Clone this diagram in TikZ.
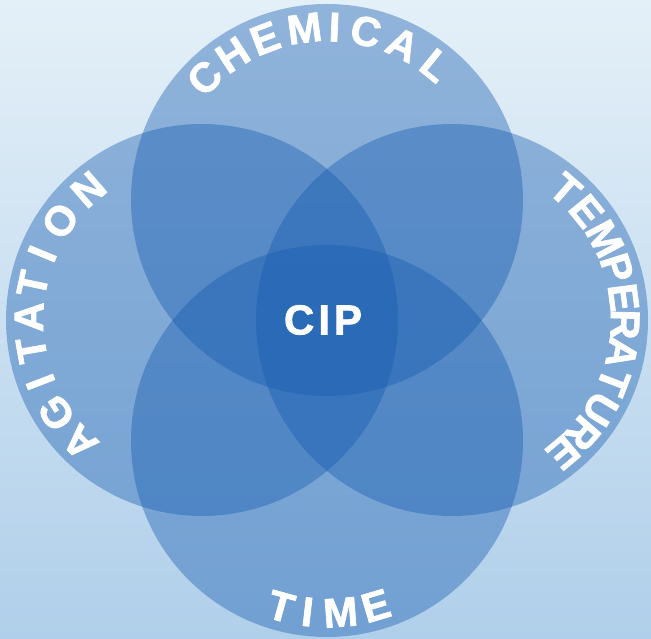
\documentclass[tikz,border=0pt]{standalone}
\usepackage{fontspec}
\setmainfont{Liberation Sans}[BoldFeatures={FakeBold=1.6}]
\usetikzlibrary{calc}
\definecolor{bgtop}{RGB}{228,240,248}
\definecolor{bgbottom}{RGB}{176,207,234}
\definecolor{vennblue}{RGB}{20,90,175}
\begin{document}
\begin{tikzpicture}
	[x=1pt,y=1pt,
	bubble/.style={circle,fill=vennblue,fill opacity=0.4,minimum size=392pt,inner sep=0pt},
	letter/.style={text=white,font=\fontsize{41.5}{41.5}\selectfont\bfseries,inner sep=0pt}]
	\shade[top color=bgtop,bottom color=bgbottom] (0,0) rectangle (651,639);
	\useasboundingbox (0,0) rectangle (651,639);
	\node[bubble,name=chemical] at (327,439) {};
	\node[bubble,name=agitation] at (202,319) {};
	\node[bubble,name=temperature] at (452,319) {};
	\node[bubble,name=time] at (327,198) {};
	\node[letter,font=\fontsize{42}{42}\selectfont\bfseries,name=cip] at (323,319) {C\hspace{4pt}I\hspace{4pt}P};
	% words round the circles
	\foreach \ch/\ang [count=\i] in {C/135,H/123,E/111,M/97.5,I/87.5,C/77,A/64,L/51}
	{
		\node[letter,rotate=\ang-90,name=chem-\i] at ($(chemical)+(\ang:173)$) {\ch};
	}
	\foreach \ch/\ang [count=\i] in {A/225,G/212.5,I/201,T/190,A/179,T/168,I/157.5,O/145,N/131}
	{
		\node[letter,rotate=\ang-90,name=agit-\i] at ($(agitation)+(\ang:173)$) {\ch};
	}
	\foreach \ch/\ang [count=\i] in {T/49,E/39,M/28,P/17.5,E/7.5,R/-1.5,A/-11,T/-21,U/-31,R/-41,E/-50}
	{
		\node[letter,rotate=\ang-90,name=temp-\i] at ($(temperature)+(\ang:173)$) {\ch};
	}
	\foreach \ch/\ang [count=\i] in {T/254.5,I/263.5,M/274.5,E/286.5}
	{
		\node[letter,rotate=\ang+90,name=time-\i] at ($(time)+(\ang:172)$) {\ch};
	}
\end{tikzpicture}
\end{document}
